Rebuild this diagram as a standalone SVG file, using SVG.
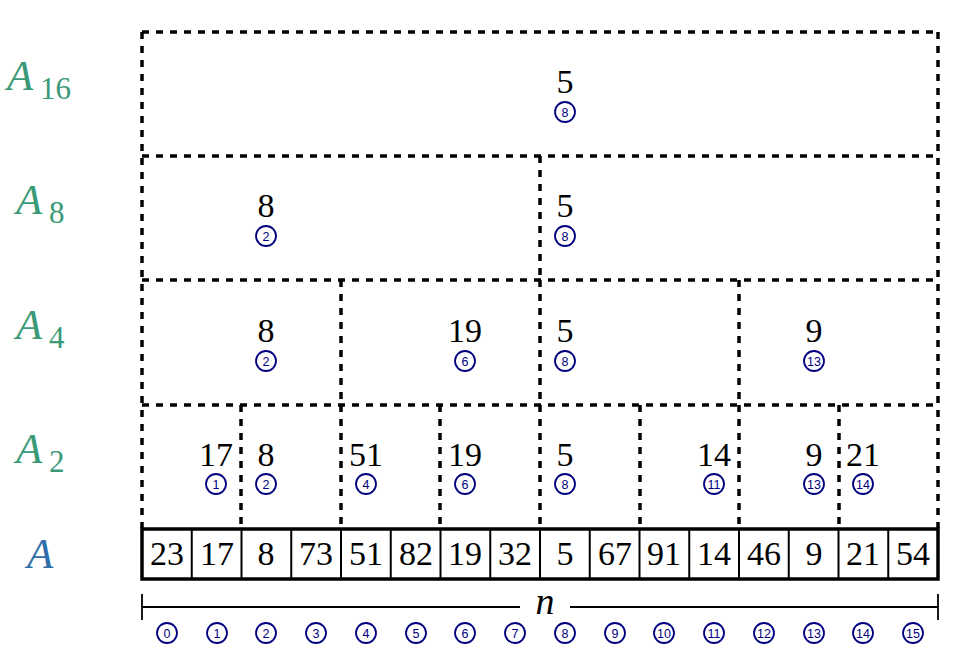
<svg xmlns="http://www.w3.org/2000/svg" width="956" height="654" viewBox="0 0 956 654">
<style>
.dash{stroke:#000;stroke-width:3.5;stroke-dasharray:7 7;fill:none}
.cell{stroke:#000;stroke-width:2;fill:none}
.val{font-family:"Liberation Serif","DejaVu Serif",serif;font-size:34px;text-anchor:middle;fill:#000}
.idx circle{fill:#fff;stroke:#000080;stroke-width:1.8}
.idx text{font-family:"Liberation Sans","DejaVu Sans",sans-serif;font-size:12.5px;text-anchor:middle;fill:#000080}
.lab{font-family:"Liberation Serif","DejaVu Serif",serif;font-style:italic;font-size:43px;fill:#3a9a78}
.sub{font-family:"Liberation Serif","DejaVu Serif",serif;font-size:31px;fill:#3a9a78}
</style>
<rect width="956" height="654" fill="#fff"/>
<g id="labels">
<text class="lab" x="7" y="90">A</text><text class="sub" x="40" y="99">16</text>
<text class="lab" x="16" y="214">A</text><text class="sub" x="49" y="223">8</text>
<text class="lab" x="16" y="339">A</text><text class="sub" x="49" y="348">4</text>
<text class="lab" x="16" y="463">A</text><text class="sub" x="49" y="472">2</text>
<text class="lab" x="27" y="568" style="fill:#2f6eab">A</text>
</g>
<g id="connectors">
<path class="dash" d="M142 32H938M142 156H938M142 280H938M142 405H938M142 32V528M938 32V528"/>
<path class="dash" d="M540 156V280M341 280V405M540 280V405M739 280V405"/>
<path class="dash" d="M241 405V528M341 405V528M440 405V528M540 405V528M640 405V528M739 405V528M839 405V528"/>
</g>
<g id="nodes">
<g id="a16-0"><text class="val" x="565" y="93">5</text><g class="idx"><circle cx="565" cy="112" r="10"/><text x="565" y="116.5">8</text></g></g>
<g id="a8-0"><text class="val" x="266" y="217">8</text><g class="idx"><circle cx="266" cy="236" r="10"/><text x="266" y="240.5">2</text></g></g>
<g id="a8-1"><text class="val" x="565" y="217">5</text><g class="idx"><circle cx="565" cy="236" r="10"/><text x="565" y="240.5">8</text></g></g>
<g id="a4-0"><text class="val" x="266" y="342">8</text><g class="idx"><circle cx="266" cy="361" r="10"/><text x="266" y="365.5">2</text></g></g>
<g id="a4-1"><text class="val" x="465" y="342">19</text><g class="idx"><circle cx="465" cy="361" r="10"/><text x="465" y="365.5">6</text></g></g>
<g id="a4-2"><text class="val" x="565" y="342">5</text><g class="idx"><circle cx="565" cy="361" r="10"/><text x="565" y="365.5">8</text></g></g>
<g id="a4-3"><text class="val" x="814" y="342">9</text><g class="idx"><circle cx="814" cy="361" r="10"/><text x="814" y="365.5">13</text></g></g>
<g id="a2-0"><text class="val" x="216" y="466">17</text><g class="idx"><circle cx="216" cy="484" r="10"/><text x="216" y="488.5">1</text></g></g>
<g id="a2-1"><text class="val" x="266" y="466">8</text><g class="idx"><circle cx="266" cy="484" r="10"/><text x="266" y="488.5">2</text></g></g>
<g id="a2-2"><text class="val" x="366" y="466">51</text><g class="idx"><circle cx="366" cy="484" r="10"/><text x="366" y="488.5">4</text></g></g>
<g id="a2-3"><text class="val" x="465" y="466">19</text><g class="idx"><circle cx="465" cy="484" r="10"/><text x="465" y="488.5">6</text></g></g>
<g id="a2-4"><text class="val" x="565" y="466">5</text><g class="idx"><circle cx="565" cy="484" r="10"/><text x="565" y="488.5">8</text></g></g>
<g id="a2-5"><text class="val" x="714" y="466">14</text><g class="idx"><circle cx="714" cy="484" r="10"/><text x="714" y="488.5">11</text></g></g>
<g id="a2-6"><text class="val" x="814" y="466">9</text><g class="idx"><circle cx="814" cy="484" r="10"/><text x="814" y="488.5">13</text></g></g>
<g id="a2-7"><text class="val" x="863" y="466">21</text><g class="idx"><circle cx="863" cy="484" r="10"/><text x="863" y="488.5">14</text></g></g>
</g>
<g id="array">
<path class="cell" d="M191.75 529V579M241.5 529V579M291.25 529V579M341 529V579M390.75 529V579M440.5 529V579M490.25 529V579M540 529V579M589.75 529V579M639.5 529V579M689.25 529V579M739 529V579M788.75 529V579M838.5 529V579M888.25 529V579"/>
<rect x="142" y="529" width="796" height="50" fill="none" stroke="#000" stroke-width="3.5"/>
<g class="val">
<text x="167" y="565">23</text><text x="217" y="565">17</text><text x="266" y="565">8</text><text x="316" y="565">73</text>
<text x="366" y="565">51</text><text x="416" y="565">82</text><text x="465" y="565">19</text><text x="515" y="565">32</text>
<text x="565" y="565">5</text><text x="615" y="565">67</text><text x="664" y="565">91</text><text x="714" y="565">14</text>
<text x="764" y="565">46</text><text x="814" y="565">9</text><text x="863" y="565">21</text><text x="913" y="565">54</text>
</g>
</g>
<g id="bracket">
<path d="M142 594V620M938 594V620M142 607H520M570 607H938" stroke="#000" stroke-width="1.8" fill="none"/>
<text x="545" y="614" style="font-family:'Liberation Serif','DejaVu Serif',serif;font-style:italic;font-size:38px" text-anchor="middle">n</text>
</g>
<g id="indices" class="idx">
<circle cx="167" cy="633" r="10"/><text x="167" y="637.5">0</text>
<circle cx="217" cy="633" r="10"/><text x="217" y="637.5">1</text>
<circle cx="266" cy="633" r="10"/><text x="266" y="637.5">2</text>
<circle cx="316" cy="633" r="10"/><text x="316" y="637.5">3</text>
<circle cx="366" cy="633" r="10"/><text x="366" y="637.5">4</text>
<circle cx="416" cy="633" r="10"/><text x="416" y="637.5">5</text>
<circle cx="465" cy="633" r="10"/><text x="465" y="637.5">6</text>
<circle cx="515" cy="633" r="10"/><text x="515" y="637.5">7</text>
<circle cx="565" cy="633" r="10"/><text x="565" y="637.5">8</text>
<circle cx="615" cy="633" r="10"/><text x="615" y="637.5">9</text>
<circle cx="664" cy="633" r="10"/><text x="664" y="637.5">10</text>
<circle cx="714" cy="633" r="10"/><text x="714" y="637.5">11</text>
<circle cx="764" cy="633" r="10"/><text x="764" y="637.5">12</text>
<circle cx="814" cy="633" r="10"/><text x="814" y="637.5">13</text>
<circle cx="863" cy="633" r="10"/><text x="863" y="637.5">14</text>
<circle cx="913" cy="633" r="10"/><text x="913" y="637.5">15</text>
</g>
</svg>
